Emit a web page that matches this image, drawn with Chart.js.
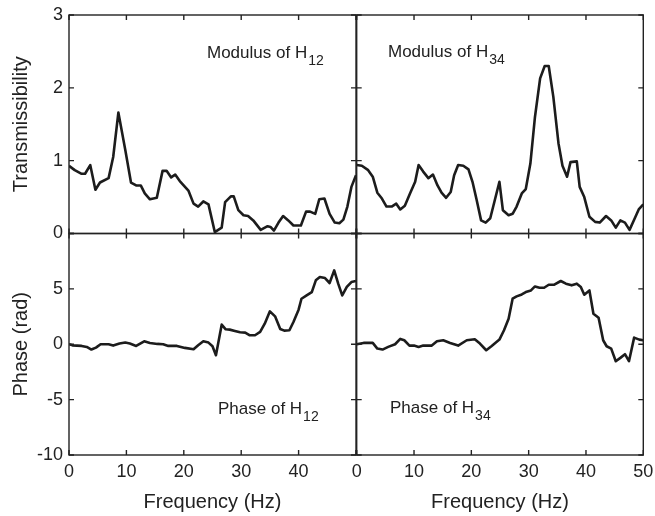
<!DOCTYPE html>
<html>
<head>
<meta charset="utf-8">
<script src="https://cdn.jsdelivr.net/npm/chart.js@4.4.1/dist/chart.umd.min.js"></script>
<style>
    body { margin: 0; background: #fff; }
    #wrap { position: relative; width: 655px; height: 516px; overflow: hidden; }
    #wrap canvas { position: absolute; left: 0; top: 0; }
    .note {
        position: absolute;
        font-family: 'Liberation Sans', Arial, sans-serif;
        font-size: 17px;
        line-height: 17px;
        color: #222;
        white-space: nowrap;
    }
    .note sub { font-size: 14px; vertical-align: -7px; line-height: 0; margin-left: 1px; }
</style>
</head>
<body>
<div id="wrap">
    <canvas id="modH12" width="655" height="516"></canvas>
    <canvas id="modH34" width="655" height="516"></canvas>
    <canvas id="phH12" width="655" height="516"></canvas>
    <canvas id="phH34" width="655" height="516"></canvas>
    <div class="note" style="left:207px; top:44px;">Modulus of H<sub>12</sub></div>
    <div class="note" style="left:388px; top:43px;">Modulus of H<sub>34</sub></div>
    <div class="note" style="left:218px; top:400px;">Phase of H<sub>12</sub></div>
    <div class="note" style="left:390px; top:399px;">Phase of H<sub>34</sub></div>
</div>
<script>
// values (Hz / transmissibility / rad)
const freqMod12 = [0,1,2.2,2.8,3.7,4.6,5.4,6.9,7.7,8.6,9.8,10.8,11.7,12.5,13.2,14.1,15.3,16.3,17.0,17.8,18.5,19.3,20.8,21.7,22.5,23.4,24.3,25.4,26.6,27.2,28.2,28.7,29.5,30.4,31.2,32.1,33.4,34.6,35.1,35.7,36.5,37.3,38.2,39.1,40.4,41.3,42.0,42.9,43.6,44.5,45.4,46.3,47.1,47.8,48.5,49.2,50];
const modH12 = [0.93,0.87,0.82,0.82,0.94,0.60,0.70,0.76,1.05,1.66,1.15,0.70,0.66,0.66,0.55,0.47,0.49,0.86,0.86,0.77,0.81,0.72,0.59,0.41,0.37,0.44,0.40,0.02,0.08,0.43,0.51,0.51,0.32,0.25,0.24,0.18,0.05,0.10,0.09,0.04,0.15,0.24,0.18,0.11,0.11,0.30,0.30,0.27,0.47,0.48,0.27,0.15,0.14,0.19,0.37,0.64,0.80];

const freqMod34 = [0,0.9,2.0,2.8,3.6,4.4,5.2,6.1,6.9,7.6,8.4,9.3,10.2,10.8,11.6,12.5,13.3,14.1,14.8,15.6,16.4,17.0,17.7,18.6,19.5,20.2,20.9,21.7,22.5,23.3,24.1,24.9,25.5,26.5,27.2,27.9,28.8,29.5,30.3,31.1,32.0,32.8,33.5,34.3,35.2,35.9,36.7,37.3,38.4,38.9,39.7,40.6,41.6,42.4,43.5,44.4,45.2,46.0,46.8,47.6,48.4,49.2,50];
const modH34 = [0.94,0.93,0.87,0.78,0.56,0.48,0.37,0.37,0.41,0.33,0.38,0.55,0.71,0.94,0.85,0.76,0.81,0.66,0.56,0.49,0.57,0.80,0.94,0.93,0.88,0.71,0.47,0.18,0.15,0.21,0.46,0.71,0.32,0.25,0.27,0.37,0.55,0.61,0.96,1.60,2.13,2.30,2.30,1.88,1.24,0.93,0.78,0.98,0.99,0.64,0.50,0.23,0.16,0.15,0.24,0.18,0.08,0.18,0.15,0.05,0.19,0.33,0.40];

const freqPh12 = [0,0.6,2.2,3.1,3.9,4.7,5.5,6.9,7.7,8.8,9.8,10.6,11.7,13.1,14.1,15.4,16.4,17.3,18.8,20.2,21.7,22.5,23.4,24.3,25.0,25.6,26.6,27.3,28.0,28.9,29.8,30.7,31.5,32.4,33.3,34.1,35.0,35.9,36.8,37.5,38.4,39.1,40.0,40.5,41.4,42.3,43.0,43.7,44.6,45.4,46.2,46.9,47.6,48.4,49.2,50];
const phH12 = [0,-0.1,-0.15,-0.24,-0.48,-0.3,0,0,-0.12,0.06,0.15,0.06,-0.15,0.27,0.12,0.03,0,-0.15,-0.15,-0.33,-0.45,-0.09,0.27,0.15,-0.18,-0.99,1.77,1.35,1.32,1.2,1.08,1.05,0.81,0.81,1.11,1.86,2.97,2.52,1.38,1.23,1.26,2.01,3.12,4.11,4.41,4.71,5.77,6.07,5.98,5.53,6.67,5.47,4.41,5.17,5.62,5.71];

const freqPh34 = [0,1.2,2.8,3.6,4.5,5.5,6.7,7.6,8.3,9.2,10.0,10.8,11.6,13.1,14.0,15.1,16.3,17.7,19.2,20.6,21.5,22.6,23.5,24.9,25.7,26.5,27.2,27.9,28.8,29.5,30.4,31.1,31.9,32.7,33.5,34.4,35.6,36.5,37.5,38.4,39.1,39.7,40.6,41.3,42.2,43.0,43.6,44.4,45.2,46.0,46.8,47.5,48.4,49.3,50];
const phH34 = [0,0.12,0.12,-0.39,-0.48,-0.24,0,0.48,0.36,-0.12,-0.12,-0.24,-0.12,-0.12,0.27,0.36,0.12,-0.12,0.36,0.45,0.06,-0.54,-0.18,0.42,1.26,2.31,4.11,4.32,4.5,4.71,4.86,5.22,5.1,5.1,5.37,5.37,5.71,5.47,5.32,5.47,5.17,4.47,4.86,2.76,2.4,0.36,-0.18,-0.39,-1.53,-1.23,-0.9,-1.53,0.6,0.42,0.36];

// axis ranges / tick steps
const freqRange = [0, 50];
const freqStep = 10;
const modRange = [0, 3];
const modStep = 1;
const phaseRange = [-10, 10];
const phaseStep = 5;

const lineColor = '#1c1c1c';
const axisColor = '#222';
Chart.defaults.font.family = "'Liberation Sans', Arial, sans-serif";
Chart.defaults.color = '#222';

// MATLAB-like box with inward ticks on all four sides
const boxTicks = {
    id: 'boxTicks',
    afterDatasetsDraw(chart) {
        const { ctx, chartArea: a, scales: { x, y } } = chart;
        const len = 5;
        ctx.save();
        ctx.strokeStyle = axisColor;
        ctx.lineWidth = 1.4;
        ctx.strokeRect(a.left, a.top, a.right - a.left, a.bottom - a.top);
        ctx.beginPath();
        x.ticks.forEach(t => {
            const px = x.getPixelForValue(t.value);
            ctx.moveTo(px, a.bottom); ctx.lineTo(px, a.bottom - len);
            ctx.moveTo(px, a.top); ctx.lineTo(px, a.top + len);
        });
        y.ticks.forEach(t => {
            const py = y.getPixelForValue(t.value);
            ctx.moveTo(a.left, py); ctx.lineTo(a.left + len, py);
            ctx.moveTo(a.right, py); ctx.lineTo(a.right - len, py);
        });
        ctx.stroke();
        ctx.restore();
    }
};

function toPoints(xs, ys) {
    return xs.map((v, i) => ({ x: v, y: ys[i] }));
}

// stop tick labels from pushing the plot area in
function noLabelPadding(s) {
    s.paddingLeft = 0;
    s.paddingRight = 0;
    s.paddingTop = 0;
    s.paddingBottom = 0;
}

function makePanel(id, cfg) {
    return new Chart(document.getElementById(id), {
        type: 'line',
        data: {
            datasets: [{
                data: toPoints(cfg.xs, cfg.ys),
                borderColor: lineColor,
                borderWidth: 2.6,
                borderJoinStyle: 'round',
                pointRadius: 0,
                tension: 0,
                fill: false
            }]
        },
        options: {
            responsive: false,
            animation: false,
            events: [],
            layout: { padding: cfg.padding },
            plugins: { legend: { display: false }, tooltip: { enabled: false } },
            scales: {
                x: {
                    type: 'linear',
                    min: freqRange[0],
                    max: freqRange[1],
                    grid: { display: false, drawTicks: false },
                    border: { display: false },
                    ticks: {
                        display: cfg.showX,
                        stepSize: freqStep,
                        autoSkip: false,
                        maxRotation: 0,
                        padding: 6,
                        font: { size: 18 },
                        callback: v => (cfg.hideLastX && v === freqRange[1]) ? '' : v
                    },
                    title: {
                        display: cfg.showX,
                        text: 'Frequency (Hz)',
                        font: { size: 20, lineHeight: 1.2 },
                        padding: { top: 0, bottom: 2 }
                    },
                    afterFit: s => { s.height = cfg.showX ? 61 : 0; noLabelPadding(s); }
                },
                y: {
                    min: cfg.yRange[0],
                    max: cfg.yRange[1],
                    grid: { display: false, drawTicks: false },
                    border: { display: false },
                    ticks: {
                        display: !!cfg.yTitle,
                        stepSize: cfg.yStep,
                        padding: 6,
                        font: { size: 18 },
                        callback: v => (cfg.hideTopY && v === cfg.yRange[1]) ? '' : v
                    },
                    title: {
                        display: !!cfg.yTitle,
                        text: cfg.yTitle || '',
                        font: { size: 20, lineHeight: 1.2 },
                        padding: { top: 9, bottom: 0 }
                    },
                    afterFit: s => { s.width = cfg.yTitle ? 69 : 0; noLabelPadding(s); }
                }
            }
        },
        plugins: [boxTicks]
    });
}

makePanel('modH12', {
    xs: freqMod12, ys: modH12, yRange: modRange, yStep: modStep,
    yTitle: 'Transmissibility', showX: false,
    padding: { left: 0, right: 299, top: 15, bottom: 282.5 }
});
makePanel('modH34', {
    xs: freqMod34, ys: modH34, yRange: modRange, yStep: modStep,
    showX: false,
    padding: { left: 356.7, right: 11.7, top: 15, bottom: 282.5 }
});
makePanel('phH12', {
    xs: freqPh12, ys: phH12, yRange: phaseRange, yStep: phaseStep,
    yTitle: 'Phase (rad)', showX: true, hideLastX: true, hideTopY: true,
    padding: { left: 0, right: 299, top: 233.5, bottom: 0 }
});
makePanel('phH34', {
    xs: freqPh34, ys: phH34, yRange: phaseRange, yStep: phaseStep,
    showX: true,
    padding: { left: 356.7, right: 11.7, top: 233.5, bottom: 0 }
});
</script>
</body>
</html>
